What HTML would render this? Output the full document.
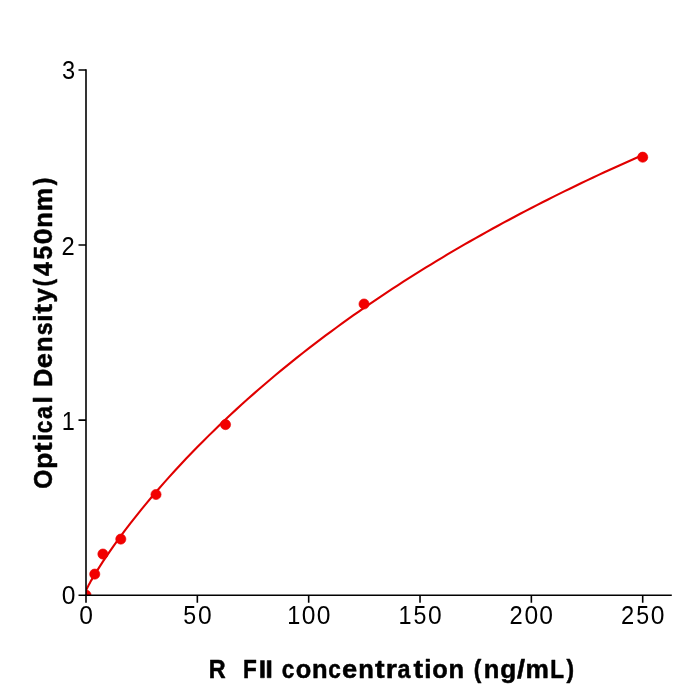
<!DOCTYPE html>
<html><head><meta charset="utf-8">
<style>
html,body{margin:0;padding:0;background:#fff;}
body{width:700px;height:700px;overflow:hidden;}
svg{display:block;will-change:transform;}
text{font-family:"Liberation Sans",sans-serif;fill:#000;}
</style></head>
<body>
<svg width="700" height="700" viewBox="0 0 700 700">
<rect width="700" height="700" fill="#fff"/>
<defs><clipPath id="ax"><rect x="86" y="70" width="586" height="525.2"/></clipPath></defs>
<g clip-path="url(#ax)">
<path d="M86.00,590.76 L86.45,589.64 L86.89,588.66 L87.34,587.74 L87.78,586.85 L88.23,585.98 L88.67,585.12 L89.12,584.29 L89.56,583.46 L90.01,582.65 L90.45,581.85 L91.57,579.88 L97.13,570.58 L102.70,561.88 L108.27,553.59 L113.83,545.62 L119.40,537.91 L124.97,530.43 L130.54,523.16 L136.10,516.07 L141.67,509.14 L147.24,502.37 L152.80,495.75 L158.37,489.26 L163.94,482.89 L169.50,476.65 L175.07,470.52 L180.64,464.50 L186.21,458.58 L191.77,452.76 L197.34,447.04 L202.91,441.41 L208.47,435.87 L214.04,430.41 L219.61,425.03 L225.17,419.74 L230.74,414.52 L236.31,409.38 L241.88,404.31 L247.44,399.31 L253.01,394.37 L258.58,389.51 L264.14,384.71 L269.71,379.97 L275.28,375.29 L280.85,370.67 L286.41,366.11 L291.98,361.61 L297.55,357.16 L303.11,352.77 L308.68,348.43 L314.25,344.14 L319.81,339.90 L325.38,335.71 L330.95,331.57 L336.51,327.48 L342.08,323.43 L347.65,319.43 L353.22,315.47 L358.78,311.56 L364.35,307.69 L369.92,303.86 L375.48,300.07 L381.05,296.32 L386.62,292.61 L392.19,288.94 L397.75,285.31 L403.32,281.72 L408.89,278.16 L414.45,274.64 L420.02,271.15 L425.59,267.70 L431.15,264.28 L436.72,260.89 L442.29,257.54 L447.85,254.22 L453.42,250.94 L458.99,247.68 L464.56,244.45 L470.12,241.26 L475.69,238.09 L481.26,234.96 L486.82,231.85 L492.39,228.77 L497.96,225.72 L503.52,222.70 L509.09,219.71 L514.66,216.74 L520.23,213.79 L525.79,210.88 L531.36,207.99 L536.93,205.12 L542.49,202.28 L548.06,199.46 L553.63,196.67 L559.19,193.90 L564.76,191.16 L570.33,188.44 L575.90,185.74 L581.46,183.06 L587.03,180.40 L592.60,177.77 L598.16,175.16 L603.73,172.57 L609.30,170.00 L614.87,167.45 L620.43,164.92 L626.00,162.42 L631.57,159.93 L637.13,157.46 L642.70,155.01" fill="none" stroke="#e00000" stroke-width="2.1" stroke-linejoin="round"/>
<g fill="#f20000" stroke="#e80000" stroke-width="0.6">
<circle cx="86" cy="595.2" r="5.1"/>
<circle cx="94.75" cy="574.1" r="5.1"/>
<circle cx="102.9" cy="554.05" r="5.1"/>
<circle cx="120.8" cy="539.1" r="5.1"/>
<circle cx="156" cy="494.5" r="5.1"/>
<circle cx="225.5" cy="424.6" r="5.1"/>
<circle cx="364.05" cy="304" r="5.1"/>
<circle cx="642.7" cy="157.2" r="5.1"/>
</g>
</g>
<g stroke="#000" stroke-width="1.6" fill="none" stroke-linecap="butt">
<path d="M86,69.3 L86,596"/>
<path d="M85.2,595.2 L671.8,595.2"/>
<path d="M78.5,595.2 H86 M78.5,420.13 H86 M78.5,245.06 H86 M78.5,70 H86"/>
<path d="M86,595.2 V602.7 M197.34,595.2 V602.7 M308.68,595.2 V602.7 M420.02,595.2 V602.7 M531.36,595.2 V602.7 M642.7,595.2 V602.7"/>
</g>
<g font-size="25.5">
<text transform="translate(61.63,604.0) scale(0.965,1)">0</text>
<text transform="translate(61.83,429.8) scale(0.921,1)">1</text>
<text transform="translate(61.57,254.6) scale(0.930,1)">2</text>
<text transform="translate(61.93,79.1) scale(0.926,1)">3</text>
<text transform="translate(79.15,623.6) scale(0.965,1)">0</text>
<text transform="translate(183.37,623.6) scale(0.910,1)">5</text>
<text transform="translate(197.92,623.6) scale(0.965,1)">0</text>
<text transform="translate(287.19,623.6) scale(0.921,1)">1</text>
<text transform="translate(301.83,623.6) scale(0.965,1)">0</text>
<text transform="translate(316.68,623.6) scale(0.965,1)">0</text>
<text transform="translate(398.53,623.6) scale(0.921,1)">1</text>
<text transform="translate(413.47,623.6) scale(0.910,1)">5</text>
<text transform="translate(428.02,623.6) scale(0.965,1)">0</text>
<text transform="translate(509.61,623.6) scale(0.930,1)">2</text>
<text transform="translate(524.51,623.6) scale(0.965,1)">0</text>
<text transform="translate(539.36,623.6) scale(0.965,1)">0</text>
<text transform="translate(620.95,623.6) scale(0.930,1)">2</text>
<text transform="translate(636.15,623.6) scale(0.910,1)">5</text>
<text transform="translate(650.70,623.6) scale(0.965,1)">0</text>
</g>
<g font-size="25.1" font-weight="bold" stroke="#000" stroke-width="0.5" stroke-linejoin="round">
<text transform="translate(208.78,677.8) scale(0.933,1)">R</text>
<text transform="translate(242.99,677.8) scale(0.900,1)">F</text>
<text transform="translate(281.85,677.8) scale(0.900,1)">c</text>
<text transform="translate(295.69,677.8) scale(1.011,1)">o</text>
<text transform="translate(311.99,677.8) scale(1.017,1)">n</text>
<text transform="translate(328.32,677.8) scale(0.900,1)">c</text>
<text transform="translate(342.09,677.8) scale(1.089,1)">e</text>
<text transform="translate(358.26,677.8) scale(1.017,1)">n</text>
<text transform="translate(375.00,677.8) scale(1.150,1)">t</text>
<text transform="translate(385.85,677.8) scale(1.150,1)">r</text>
<text transform="translate(397.57,677.8) scale(0.927,1)">a</text>
<text transform="translate(413.41,677.8) scale(1.150,1)">t</text>
<text transform="translate(424.29,677.8) scale(1.039,1)">i</text>
<text transform="translate(432.16,677.8) scale(1.011,1)">o</text>
<text transform="translate(448.46,677.8) scale(1.017,1)">n</text>
<text transform="translate(473.75,677.8) scale(0.900,1)">(</text>
<text transform="translate(483.86,677.8) scale(1.017,1)">n</text>
<text transform="translate(500.16,677.8) scale(1.045,1)">g</text>
<text transform="translate(516.89,677.8) scale(1.150,1)">/</text>
<text transform="translate(525.62,677.8) scale(1.048,1)">m</text>
<text transform="translate(550.36,677.8) scale(0.900,1)">L</text>
<text transform="translate(566.40,677.8) scale(0.900,1)">)</text>
<rect x="260.50" y="660.53" width="3.89" height="17.27"/>
<rect x="267.19" y="660.53" width="3.89" height="17.27"/>
</g>
<g font-size="25.1" font-weight="bold" stroke="#000" stroke-width="0.5" stroke-linejoin="round" transform="translate(51.8,0) rotate(-90)">
<text transform="translate(-488.74,0) scale(0.975,1)">O</text>
<text transform="translate(-468.83,0) scale(1.043,1)">p</text>
<text transform="translate(-451.96,0) scale(1.150,1)">t</text>
<text transform="translate(-441.07,0) scale(1.039,1)">i</text>
<text transform="translate(-433.22,0) scale(0.900,1)">c</text>
<text transform="translate(-419.06,0) scale(0.927,1)">a</text>
<text transform="translate(-403.50,0) scale(1.039,1)">l</text>
<text transform="translate(-387.07,0) scale(1.007,1)">D</text>
<text transform="translate(-368.21,0) scale(1.089,1)">e</text>
<text transform="translate(-352.05,0) scale(1.017,1)">n</text>
<text transform="translate(-335.31,0) scale(0.919,1)">s</text>
<text transform="translate(-321.68,0) scale(1.039,1)">i</text>
<text transform="translate(-313.42,0) scale(1.150,1)">t</text>
<text transform="translate(-302.59,0) scale(1.028,1)">y</text>
<text transform="translate(-286.62,0) scale(0.900,1)">(</text>
<text transform="translate(-276.13,0) scale(1.013,1)">4</text>
<text transform="translate(-259.52,0) scale(0.985,1)">5</text>
<text transform="translate(-244.33,0) scale(1.131,1)">0</text>
<text transform="translate(-227.82,0) scale(1.017,1)">n</text>
<text transform="translate(-211.28,0) scale(1.048,1)">m</text>
<text transform="translate(-185.36,0) scale(0.900,1)">)</text>
</g>
</svg>
</body></html>
